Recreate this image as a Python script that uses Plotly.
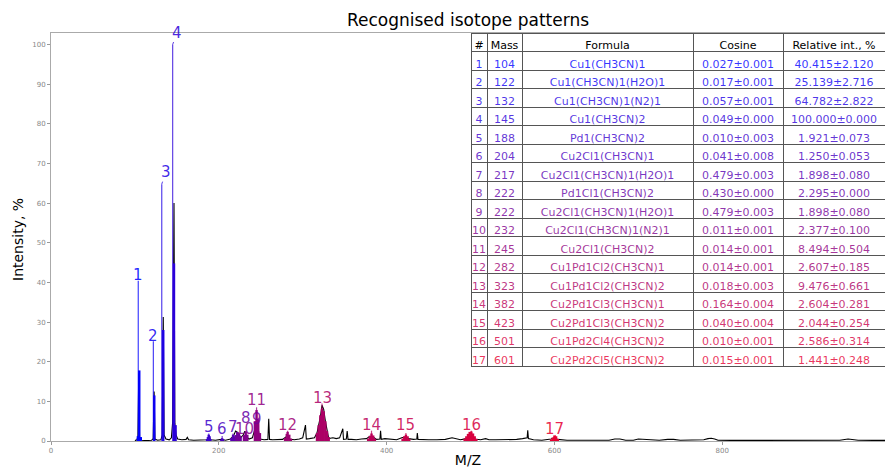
import plotly.graph_objects as go

# ---------------- data ----------------
pattern_ids = list(range(1, 18))
masses = [104, 122, 132, 145, 188, 204, 217, 222, 222, 232, 245, 282, 323, 382, 423, 501, 601]
formulas = ["Cu1(CH3CN)1", "Cu1(CH3CN)1(H2O)1", "Cu1(CH3CN)1(N2)1", "Cu1(CH3CN)2",
            "Pd1(CH3CN)2", "Cu2Cl1(CH3CN)1", "Cu2Cl1(CH3CN)1(H2O)1", "Pd1Cl1(CH3CN)2",
            "Cu2Cl1(CH3CN)1(H2O)1", "Cu2Cl1(CH3CN)1(N2)1", "Cu2Cl1(CH3CN)2",
            "Cu1Pd1Cl2(CH3CN)1", "Cu1Pd1Cl2(CH3CN)2", "Cu2Pd1Cl3(CH3CN)1",
            "Cu2Pd1Cl3(CH3CN)2", "Cu1Pd2Cl4(CH3CN)2", "Cu2Pd2Cl5(CH3CN)2"]
cos_mean = [0.027, 0.017, 0.057, 0.049, 0.010, 0.041, 0.479, 0.430, 0.479, 0.011,
            0.014, 0.014, 0.018, 0.164, 0.040, 0.010, 0.015]
cos_err = [0.001, 0.001, 0.001, 0.000, 0.003, 0.008, 0.003, 0.000, 0.003, 0.001,
           0.001, 0.001, 0.003, 0.004, 0.004, 0.001, 0.001]
rel_int = [40.415, 25.139, 64.782, 100.000, 1.921, 1.250, 1.898, 2.295, 1.898, 2.377,
           8.494, 2.607, 9.476, 2.604, 2.044, 2.586, 1.441]
rel_err = [2.120, 2.716, 2.822, 0.000, 0.073, 0.053, 0.080, 0.000, 0.080, 0.100,
           0.504, 0.185, 0.661, 0.281, 0.254, 0.314, 0.248]
table_header = ["#", "Mass", "Formula", "Cosine", "Relative int., %"]

# measured spectrum (black)
spectrum_mz = [100, 102.5, 103.6, 104.6, 105.6, 108, 113, 120, 121.8, 122.9, 123.9, 127,
               131, 132.5, 133.8, 134.8, 137, 141, 143.5, 145, 146.6, 147.6, 149, 151,
               156, 161, 162.5, 164, 170, 178, 186, 188.5, 190, 196, 203, 208, 214, 218,
               220, 222, 224, 226, 229, 231, 233, 236, 240, 243, 245, 247, 249, 254,
               258.5, 259.5, 260.5, 264, 270, 276, 280, 282, 284, 290, 296, 300, 303.3,
               304.3, 308, 314, 317, 319, 321, 323, 325, 327, 329, 331, 336, 340, 344,
               347.8, 348.6, 352, 353, 354, 358, 364, 370, 376, 380, 384, 388, 392,
               392.8, 393.6, 398, 402, 406, 412, 418, 422, 426, 432, 436, 436.6, 437.4,
               442, 450, 460, 470, 478, 482, 488, 495, 500, 505, 512, 518, 522, 530,
               545, 555, 562, 567.5, 568.2, 569, 575, 585, 596, 600, 604, 615, 630, 640,
               650, 665, 672, 678, 685, 694, 700, 706, 714, 725, 735, 742, 750, 765,
               778, 783, 787, 791, 795, 810, 830, 850, 860, 870, 880, 890, 905, 915,
               925, 940, 950, 955, 962, 980, 995]
spectrum_int = [0.1, 0.3, 1.2, 17.0, 0.8, 0.2, 0.1, 0.2, 0.6, 12.5, 0.5, 0.2,
                0.3, 1.5, 31.3, 1.5, 0.5, 0.3, 0.8, 4.8, 60.0, 4.5, 1.5, 0.5,
                0.3, 0.4, 0.9, 0.3, 0.2, 0.2, 0.3, 1.0, 0.3, 0.2, 0.4, 0.2, 0.5, 1.5,
                2.5, 2.2, 1.8, 0.8, 1.5, 2.5, 1.0, 0.5, 0.8, 3.0, 5.3, 3.0, 0.5, 0.3,
                0.4, 5.6, 0.4, 0.3, 0.3, 0.4, 1.0, 1.2, 0.5, 0.3, 0.5, 0.8, 4.0,
                0.5, 0.6, 0.8, 2.0, 4.0, 6.0, 9.0, 8.0, 5.0, 2.5, 0.6, 0.8, 0.6, 0.8,
                3.1, 0.4, 0.5, 2.5, 0.4, 0.4, 0.3, 0.5, 0.6, 1.2, 1.0, 0.4, 0.5,
                2.6, 0.4, 0.6, 0.5, 0.3, 0.3, 0.8, 1.0, 0.6, 0.4, 0.5, 2.0, 0.4,
                0.3, 0.3, 0.3, 0.4, 0.8, 0.6, 0.3, 0.6, 1.0, 0.5, 0.3, 0.6, 0.3, 0.3,
                0.3, 0.4, 0.6, 0.8, 2.7, 0.6, 0.3, 0.2, 0.5, 0.8, 0.4, 0.2, 0.2, 0.2,
                0.2, 0.2, 0.5, 0.5, 0.2, 0.2, 0.5, 0.4, 0.2, 0.2, 0.4, 0.4, 0.2, 0.2,
                0.3, 0.6, 0.7, 0.5, 0.2, 0.15, 0.15, 0.2, 0.3, 0.2, 0.3, 0.2, 0.2, 0.3,
                0.2, 0.2, 0.5, 0.4, 0.2, 0.15, 0.15]

# recognised isotope peaks of each pattern (m/z, intensity %)
pattern_peak_mz = [
    [103.5, 105.2, 107.0],
    [123.1],
    [133.8],
    [146.6, 148.5],
    [186, 187, 188, 189, 190],
    [203, 204, 205],
    [215, 217, 219],
    [220, 222, 224, 226],
    [221, 223, 225],
    [230, 232, 234],
    [243, 245, 247, 249],
    [279, 281, 282, 284, 286],
    [317, 319, 321, 323, 325, 327, 329, 331],
    [378, 380, 382, 384, 386],
    [419, 421, 423, 425, 427],
    [493, 495, 497, 499, 501, 503, 505, 507],
    [596, 598, 600, 602, 604],
]
pattern_peak_int = [
    [1.2, 17.8, 1.0],
    [11.5],
    [28.0],
    [44.8, 4.0],
    [0.5, 1.0, 1.6, 1.2, 0.5],
    [0.4, 0.7, 0.4],
    [0.8, 1.6, 1.2],
    [1.5, 2.3, 1.8, 1.0],
    [1.2, 1.9, 1.3],
    [1.5, 2.4, 1.6],
    [5.0, 7.8, 5.5, 2.0],
    [0.8, 1.8, 2.3, 1.6, 0.6],
    [2.0, 4.0, 6.5, 8.2, 7.5, 5.0, 2.5, 1.0],
    [0.6, 1.3, 1.9, 1.4, 0.6],
    [0.6, 1.2, 1.6, 1.2, 0.5],
    [0.6, 1.2, 1.8, 2.3, 2.4, 1.9, 1.2, 0.5],
    [0.4, 0.9, 1.4, 1.2, 0.5],
]

x_ticks = [0, 200, 400, 600, 800]
y_ticks = [0, 10, 20, 30, 40, 50, 60, 70, 80, 90, 100]

# label offsets in screen pixels (layout only)
label_dx = [0, 0, 4, 4.5, 0, 0, 0, 8.5, 20, -1, 0, 0, 0, 0, 0, 0, -1]
label_dy = [-6, -5, -12, -12, -6.5, -7, -6.5, -14, -14, -3, -7, -5.5, -5, -5.5, -7.5, -5.5, -6]

FONT = "DejaVu Sans"
START_RGB = (0, 0, 255)
END_RGB = (230, 0, 50)


def pcolor(i, a=1.0):
    t = i / 16.0
    c = [round(s + (e - s) * t) for s, e in zip(START_RGB, END_RGB)]
    return "rgba(%d,%d,%d,%s)" % (c[0], c[1], c[2], a)


fig = go.Figure()

fig.add_trace(go.Scatter(x=spectrum_mz, y=spectrum_int, mode="lines",
                         line=dict(color="black", width=1.1), hoverinfo="skip",
                         showlegend=False))

annotations = []
for i in range(17):
    col = pcolor(i)
    xs, ys = [], []
    for m, h in zip(pattern_peak_mz[i], pattern_peak_int[i]):
        xs += [m, m, None]
        ys += [0, h, None]
    fig.add_trace(go.Scatter(x=xs, y=ys, mode="lines", line=dict(color=col, width=2.4),
                             hoverinfo="skip", showlegend=False))
    fig.add_trace(go.Scatter(x=[masses[i], masses[i]], y=[0, rel_int[i]], mode="lines",
                             line=dict(color=pcolor(i, 0.75), width=1.2),
                             hoverinfo="skip", showlegend=False))
    ann = dict(x=masses[i], y=rel_int[i], xref="x", yref="y", text=str(pattern_ids[i]),
               font=dict(family=FONT, size=15, color=pcolor(i, 0.85)))
    if i in (2, 3):
        ann.update(showarrow=True, arrowhead=0, arrowwidth=1, arrowcolor=pcolor(i, 0.75),
                   ax=label_dx[i], ay=label_dy[i], axref="pixel", ayref="pixel",
                   standoff=0, borderpad=0)
    else:
        ann.update(showarrow=False, xshift=label_dx[i], yshift=-label_dy[i],
                   xanchor="center", yanchor="middle", borderpad=0)
    annotations.append(ann)

# y-axis title placed explicitly
annotations.append(dict(text="Intensity, %", xref="paper", yref="paper",
                        x=(18 - 51) / 834, y=(441 - 240) / 408, textangle=-90,
                        showarrow=False, xanchor="center", yanchor="middle",
                        font=dict(family=FONT, size=14, color="black")))

row_colors = [pcolor(i, 0.8) for i in range(17)]
fig.add_trace(go.Table(
    domain=dict(x=[(471 - 51) / 834, 1.0], y=[0.12, 1.0]),
    columnwidth=[16, 35, 171, 90, 102],
    header=dict(values=[h.replace(" ", "\u00a0") for h in table_header],
                font=dict(family=FONT, size=11, color="black"),
                fill_color="white", line=dict(color="#555555", width=1),
                align="center", height=18.5),
    cells=dict(values=[[str(v) for v in pattern_ids],
                       [str(v) for v in masses],
                       formulas,
                       ["%.3f±%.3f" % (a, b) for a, b in zip(cos_mean, cos_err)],
                       ["%.3f±%.3f" % (a, b) for a, b in zip(rel_int, rel_err)]],
               font=dict(family=FONT, size=11, color=[row_colors] * 5),
               fill_color="white", line=dict(color="#555555", width=1),
               align="center", height=18.5),
))

fig.update_layout(
    width=885, height=468,
    margin=dict(l=51, r=0, t=33, b=27),
    paper_bgcolor="white", plot_bgcolor="white",
    font=dict(family=FONT),
    title=dict(text="Recognised isotope patterns", x=0.5, xref="paper",
               y=1 - 20 / 468, yref="container", yanchor="middle", xanchor="center",
               font=dict(family=FONT, size=17, color="black")),
    annotations=annotations,
    showlegend=False,
)
fig.update_xaxes(range=[0, 994], tickvals=x_ticks, ticks="outside", ticklen=3,
                 tickcolor="#999999", tickfont=dict(size=7, color="#888888"),
                 showgrid=False, zeroline=False, showline=True, linecolor="#aaaaaa",
                 mirror=True, linewidth=1,
                 title=dict(text="M/Z", font=dict(size=14, color="black"), standoff=4))
fig.update_yaxes(range=[0, 102.9], tickvals=y_ticks, ticks="outside", ticklen=3,
                 tickcolor="#999999", tickfont=dict(size=7, color="#888888"),
                 showgrid=False, zeroline=False, showline=True, linecolor="#aaaaaa",
                 mirror=True, linewidth=1)

fig.write_html("out.html", config={"displayModeBar": False},
               post_script="document.body.style.margin='0px';document.body.style.padding='0px';")
